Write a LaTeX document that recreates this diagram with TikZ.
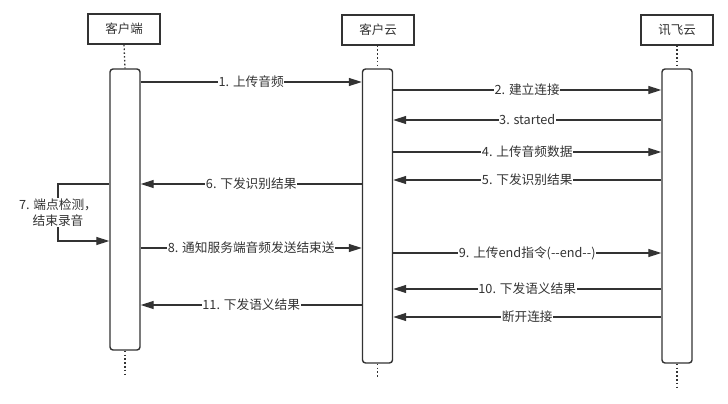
\documentclass[tikz,border=0pt]{standalone}
\usepackage{fontspec}
\usepackage{xcolor}
\usetikzlibrary{arrows.meta,positioning,calc}
\newfontfamily\cjk{Noto Sans CJK SC}
\definecolor{ink}{HTML}{333333}

\tikzset{
    actor/.style={draw=ink, line width=1.4pt, minimum width=72pt, minimum height=30pt, font=\cjk\fontsize{12.5}{14}\selectfont, text=ink},
    bar/.style={draw=ink, line width=1.4pt, rounded corners=3pt, minimum width=30pt, fill=white},
    life/.style={draw=ink, line width=1.3pt, dash pattern=on 1.6pt off 2.2pt},
    msg/.style={draw=ink, line width=1.2pt, -{Triangle[length=13pt,width=8pt]}},
    lbl/.style={fill=white, inner sep=0.5pt, text=ink, font=\cjk\fontsize{12.7}{16}\selectfont},
}

\begin{document}
\begin{tikzpicture}[x=1pt, y=-1pt]
    \useasboundingbox (0,0) rectangle (728,404);

    % actors
    \node[actor] (client) at (124,29) {客户端};
    \node[actor] (ccloud) at (378,30) {客户云};
    \node[actor] (xfyun) at (677,30) {讯飞云};

    % activation bars
    \node[bar, minimum height=281pt] (clientbar) at (125,209.5) {};
    \node[bar, minimum height=294pt] (ccloudbar) at (377.5,216) {};
    \node[bar, minimum height=294pt] (xfyunbar) at (677,216) {};

    % lifelines
    \coordinate (clientend) at (125,376);
    \coordinate (ccloudend) at (377.5,378);
    \coordinate (xfyunend) at (677,388);
    \draw[life] (client.south) -- (clientbar.north);
    \draw[life] (clientbar.south) -- (clientend);
    \draw[life] (ccloud.south -| ccloudbar) -- (ccloudbar.north);
    \draw[life] (ccloudbar.south) -- (ccloudend);
    \draw[life] (xfyun.south) -- (xfyunbar.north);
    \draw[life] (xfyunbar.south) -- (xfyunend);

    % messages
    \draw[msg] (clientbar.east |- 0,82) -- node[lbl] {1. 上传音频} (ccloudbar.west |- 0,82);
    \draw[msg] (ccloudbar.east |- 0,90) -- node[lbl] {2. 建立连接} (xfyunbar.west |- 0,90);
    \draw[msg] (xfyunbar.west |- 0,120) -- node[lbl] {3. started} (ccloudbar.east |- 0,120);
    \draw[msg] (ccloudbar.east |- 0,152) -- node[lbl] {4. 上传音频数据} (xfyunbar.west |- 0,152);
    \draw[msg] (xfyunbar.west |- 0,180) -- node[lbl] {5. 下发识别结果} (ccloudbar.east |- 0,180);
    \draw[msg] (ccloudbar.west |- 0,184) -- node[lbl] {6. 下发识别结果} (clientbar.east |- 0,184);

    % endpoint detection loop
    \coordinate (loop) at (58,212.5);
    \draw[msg] (clientbar.west |- 0,184) -| (loop)
        node[lbl, align=center] {7. 端点检测，\\结束录音}
        |- (clientbar.west |- 0,241);

    \draw[msg] (clientbar.east |- 0,248) -- node[lbl] {8. 通知服务端音频发送结束送} (ccloudbar.west |- 0,248);
    \draw[msg] (ccloudbar.east |- 0,253) -- node[lbl] {9. 上传end指令(--end--)} (xfyunbar.west |- 0,253);
    \draw[msg] (xfyunbar.west |- 0,289) -- node[lbl] {10. 下发语义结果} (ccloudbar.east |- 0,289);
    \draw[msg] (ccloudbar.west |- 0,305) -- node[lbl] {11. 下发语义结果} (clientbar.east |- 0,305);
    \draw[msg] (xfyunbar.west |- 0,317) -- node[lbl] {断开连接} (ccloudbar.east |- 0,317);
\end{tikzpicture}
\end{document}
